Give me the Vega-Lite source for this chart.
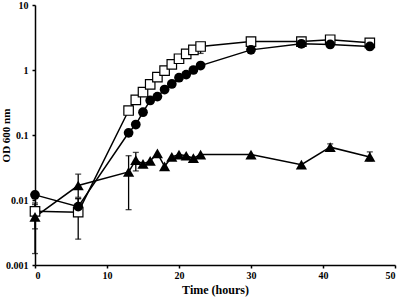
{
  "$schema": "https://vega.github.io/schema/vega-lite/v6.json",
  "width": 360,
  "height": 260,
  "autosize": {"type": "none"},
  "padding": {"left": 35, "top": 5, "right": 5, "bottom": 37},
  "background": "white",
  "config": {
    "view": {"stroke": null},
    "font": "Liberation Serif",
    "axis": {
      "grid": false,
      "domainColor": "black",
      "domainWidth": 1.5,
      "tickColor": "black",
      "tickWidth": 1.5,
      "tickSize": 3,
      "labelFont": "Liberation Serif",
      "labelFontWeight": "bold",
      "labelFontSize": 10,
      "labelColor": "black",
      "titleFont": "Liberation Serif",
      "titleFontWeight": "bold",
      "titleFontSize": 12,
      "titleColor": "black"
    }
  },
  "data": {
    "values": [
      {"s": "sq", "t": 0, "v": 0.0067, "lo": 0.0036, "hi": 0.0085},
      {"s": "sq", "t": 6, "v": 0.0065, "lo": 0.0025, "hi": 0.0105},
      {"s": "sq", "t": 13, "v": 0.238},
      {"s": "sq", "t": 14, "v": 0.348},
      {"s": "sq", "t": 15, "v": 0.456},
      {"s": "sq", "t": 16, "v": 0.6},
      {"s": "sq", "t": 17, "v": 0.775},
      {"s": "sq", "t": 18, "v": 0.98},
      {"s": "sq", "t": 19, "v": 1.22},
      {"s": "sq", "t": 20, "v": 1.49},
      {"s": "sq", "t": 21, "v": 1.77},
      {"s": "sq", "t": 22, "v": 2.04, "lo": 1.75, "hi": 2.3},
      {"s": "sq", "t": 23, "v": 2.3, "lo": 1.8, "hi": 2.65},
      {"s": "sq", "t": 30, "v": 2.74, "lo": 2.4, "hi": 3.1},
      {"s": "sq", "t": 37, "v": 2.74, "lo": 2.55, "hi": 2.95},
      {"s": "sq", "t": 41, "v": 2.92, "lo": 2.75, "hi": 3.1},
      {"s": "sq", "t": 46.5, "v": 2.62, "lo": 2.45, "hi": 2.8},
      {"s": "ci", "t": 0, "v": 0.012, "lo": 0.0105, "hi": 0.0135},
      {"s": "ci", "t": 6, "v": 0.0079, "lo": 0.0065, "hi": 0.0105},
      {"s": "ci", "t": 13, "v": 0.108},
      {"s": "ci", "t": 14, "v": 0.145},
      {"s": "ci", "t": 15, "v": 0.224},
      {"s": "ci", "t": 16, "v": 0.34},
      {"s": "ci", "t": 17, "v": 0.39},
      {"s": "ci", "t": 18, "v": 0.5},
      {"s": "ci", "t": 19, "v": 0.61},
      {"s": "ci", "t": 20, "v": 0.76},
      {"s": "ci", "t": 21, "v": 0.85},
      {"s": "ci", "t": 22, "v": 1.0},
      {"s": "ci", "t": 23, "v": 1.17},
      {"s": "ci", "t": 30, "v": 2.04},
      {"s": "ci", "t": 37, "v": 2.53},
      {"s": "ci", "t": 41, "v": 2.47},
      {"s": "ci", "t": 46.5, "v": 2.3},
      {"s": "tr", "t": 0, "v": 0.0055, "lo": 0.0015, "hi": 0.009},
      {"s": "tr", "t": 6, "v": 0.0167, "lo": 0.011, "hi": 0.025},
      {"s": "tr", "t": 13, "v": 0.027, "lo": 0.0071, "hi": 0.048},
      {"s": "tr", "t": 14, "v": 0.041, "lo": 0.028, "hi": 0.054},
      {"s": "tr", "t": 15, "v": 0.036},
      {"s": "tr", "t": 16, "v": 0.04},
      {"s": "tr", "t": 17, "v": 0.052},
      {"s": "tr", "t": 18, "v": 0.033},
      {"s": "tr", "t": 19, "v": 0.046},
      {"s": "tr", "t": 20, "v": 0.05},
      {"s": "tr", "t": 21, "v": 0.048},
      {"s": "tr", "t": 22, "v": 0.044},
      {"s": "tr", "t": 23, "v": 0.05},
      {"s": "tr", "t": 30, "v": 0.05},
      {"s": "tr", "t": 37, "v": 0.035},
      {"s": "tr", "t": 41, "v": 0.065, "lo": 0.058, "hi": 0.073},
      {"s": "tr", "t": 46.5, "v": 0.046, "lo": 0.04, "hi": 0.055}
    ]
  },
  "encoding": {
    "x": {
      "field": "t", "type": "quantitative",
      "scale": {"domain": [0, 50], "nice": false, "zero": false},
      "axis": {"values": [0, 10, 20, 30, 40, 50], "title": "Time (hours)", "titlePadding": 4}
    }
  },
  "layer": [
    {
      "mark": {"type": "line", "color": "black", "strokeWidth": 1.5},
      "encoding": {
        "y": {
          "field": "v", "type": "quantitative",
          "scale": {"type": "log", "domain": [0.001, 10], "nice": false},
          "axis": {"values": [0.001, 0.01, 0.1, 1, 10], "labelExpr": "format(datum.value, '~g')", "title": "OD 600 nm", "titleFontSize": 11, "titleX": -24, "titleY": 130, "titleBaseline": "bottom", "titleAngle": -90, "labelPadding": 4}
        },
        "detail": {"field": "s"}
      }
    },
    {
      "transform": [{"filter": "isValid(datum.lo)"}],
      "mark": {"type": "rule", "color": "black", "strokeWidth": 1.3},
      "encoding": {
        "y": {"field": "lo", "type": "quantitative"},
        "y2": {"field": "hi"}
      }
    },
    {
      "transform": [{"filter": "isValid(datum.lo)"}],
      "mark": {"type": "tick", "color": "black", "orient": "horizontal", "size": 6, "thickness": 1.3},
      "encoding": {"y": {"field": "lo", "type": "quantitative"}}
    },
    {
      "transform": [{"filter": "isValid(datum.hi)"}],
      "mark": {"type": "tick", "color": "black", "orient": "horizontal", "size": 6, "thickness": 1.3},
      "encoding": {"y": {"field": "hi", "type": "quantitative"}}
    },
    {
      "transform": [{"filter": "datum.s === 'sq'"}],
      "mark": {"type": "point", "shape": "square", "filled": true, "fill": "white", "stroke": "black", "strokeWidth": 1.2, "size": 90, "opacity": 1},
      "encoding": {"y": {"field": "v", "type": "quantitative"}}
    },
    {
      "transform": [{"filter": "datum.s === 'ci'"}],
      "mark": {"type": "point", "shape": "circle", "filled": true, "color": "black", "size": 95, "opacity": 1},
      "encoding": {"y": {"field": "v", "type": "quantitative"}}
    },
    {
      "transform": [{"filter": "datum.s === 'tr'"}],
      "mark": {"type": "point", "shape": "triangle-up", "filled": true, "color": "black", "size": 125, "opacity": 1},
      "encoding": {"y": {"field": "v", "type": "quantitative"}}
    }
  ]
}
